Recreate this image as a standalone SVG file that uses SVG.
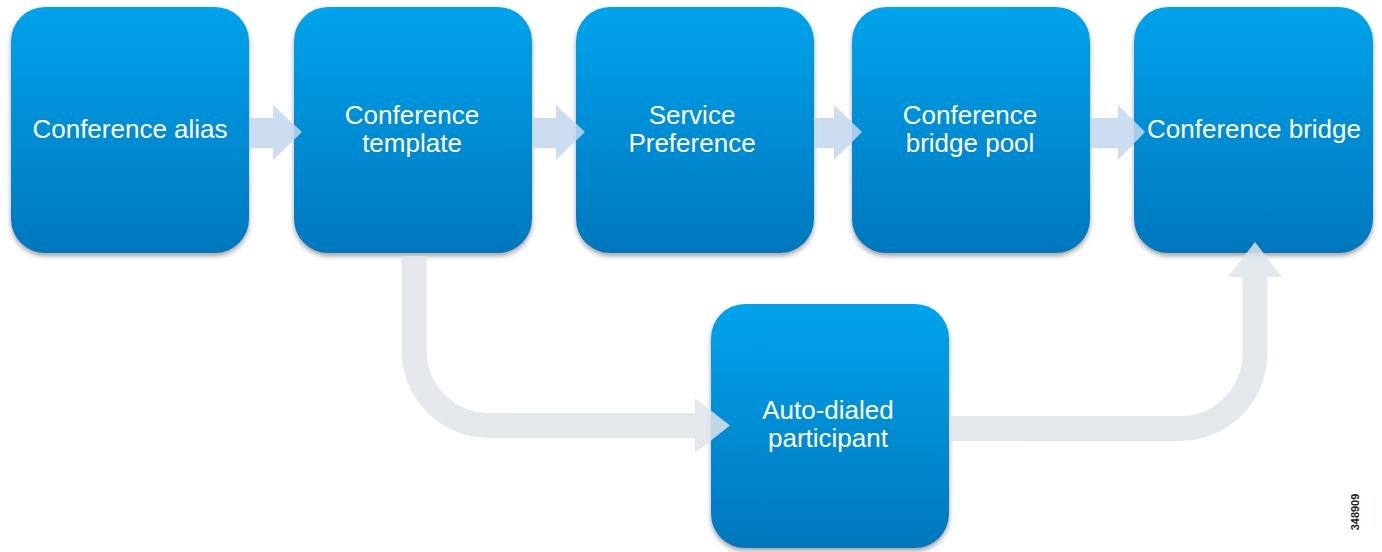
<svg xmlns="http://www.w3.org/2000/svg" width="1382" height="552" viewBox="0 0 1382 552">
  <defs>
    <linearGradient id="boxGrad" x1="0" y1="0" x2="0" y2="1">
      <stop offset="0" stop-color="#03a3ec"/>
      <stop offset="1" stop-color="#0077bd"/>
    </linearGradient>
    <filter id="shadow" x="-10%" y="-10%" width="120%" height="125%">
      <feDropShadow dx="0" dy="3" stdDeviation="2.5" flood-color="#555" flood-opacity="0.55"/>
    </filter>
  </defs>
  <style>
    .box { fill: url(#boxGrad); filter: url(#shadow); }
    .lbl { fill: #ffffff; font-family: "Liberation Sans", Arial, sans-serif; font-size: 26px; text-anchor: middle; }
    .harrow { fill: #c3d7ee; }
    .loop { fill: none; stroke: #dfe4ea; stroke-width: 25; }
    .loophead { fill: #dfe4ea; }
  </style>
  <rect width="1382" height="552" fill="#ffffff"/>

  <g id="node-conference-alias">
    <rect class="box" x="11" y="7" width="238" height="246" rx="34"/>
    <text class="lbl" x="130" y="138">Conference alias</text>
  </g>
  <g id="node-conference-template">
    <rect class="box" x="294" y="7" width="238" height="246" rx="34"/>
    <text class="lbl" x="412" y="124">Conference</text>
    <text class="lbl" x="412" y="152">template</text>
  </g>
  <g id="node-service-preference">
    <rect class="box" x="576" y="7" width="238" height="246" rx="34"/>
    <text class="lbl" x="692" y="124">Service</text>
    <text class="lbl" x="692" y="152">Preference</text>
  </g>
  <g id="node-conference-bridge-pool">
    <rect class="box" x="852" y="7" width="238" height="246" rx="34"/>
    <text class="lbl" x="970" y="124">Conference</text>
    <text class="lbl" x="970" y="152">bridge pool</text>
  </g>
  <g id="node-conference-bridge">
    <rect class="box" x="1134" y="7" width="239" height="246" rx="34"/>
    <text class="lbl" x="1254" y="138">Conference bridge</text>
  </g>
  <g id="node-auto-dialed-participant">
    <rect class="box" x="711" y="304" width="238" height="244" rx="34"/>
    <text class="lbl" x="828" y="419">Auto-dialed</text>
    <text class="lbl" x="828" y="447">participant</text>
  </g>

  <g id="connectors">
    <g opacity="0.85">
      <polygon class="harrow" points="249,118 273,118 273,105 302,132 273,160 273,148 249,148"/>
    </g>
    <g opacity="0.85">
      <polygon class="harrow" points="532,118 556,118 556,105 585,132 556,160 556,148 532,148"/>
    </g>
    <g opacity="0.85">
      <polygon class="harrow" points="814,118 834,118 834,105 862,132 834,160 834,148 814,148"/>
    </g>
    <g opacity="0.85">
      <polygon class="harrow" points="1090,118 1118,118 1118,105 1145,132 1118,160 1118,148 1090,148"/>
    </g>
    <g opacity="0.85">
      <path class="loop" d="M414,256 L414,350 A75,75 0 0 0 489,425.5 L697,425.5"/>
      <polygon class="loophead" points="695,398 730,425.5 695,453"/>
    </g>
    <g opacity="0.85">
      <path class="loop" d="M949,428.5 L1180,428.5 A75,75 0 0 0 1255,353.5 L1255,275"/>
      <polygon class="loophead" points="1228,277 1255,242 1282,277"/>
    </g>
  </g>

  <text x="1359" y="512" transform="rotate(-90 1359 512)" font-family="Liberation Sans, Arial, sans-serif" font-size="11" font-weight="bold" fill="#222" text-anchor="middle">348909</text>
</svg>
